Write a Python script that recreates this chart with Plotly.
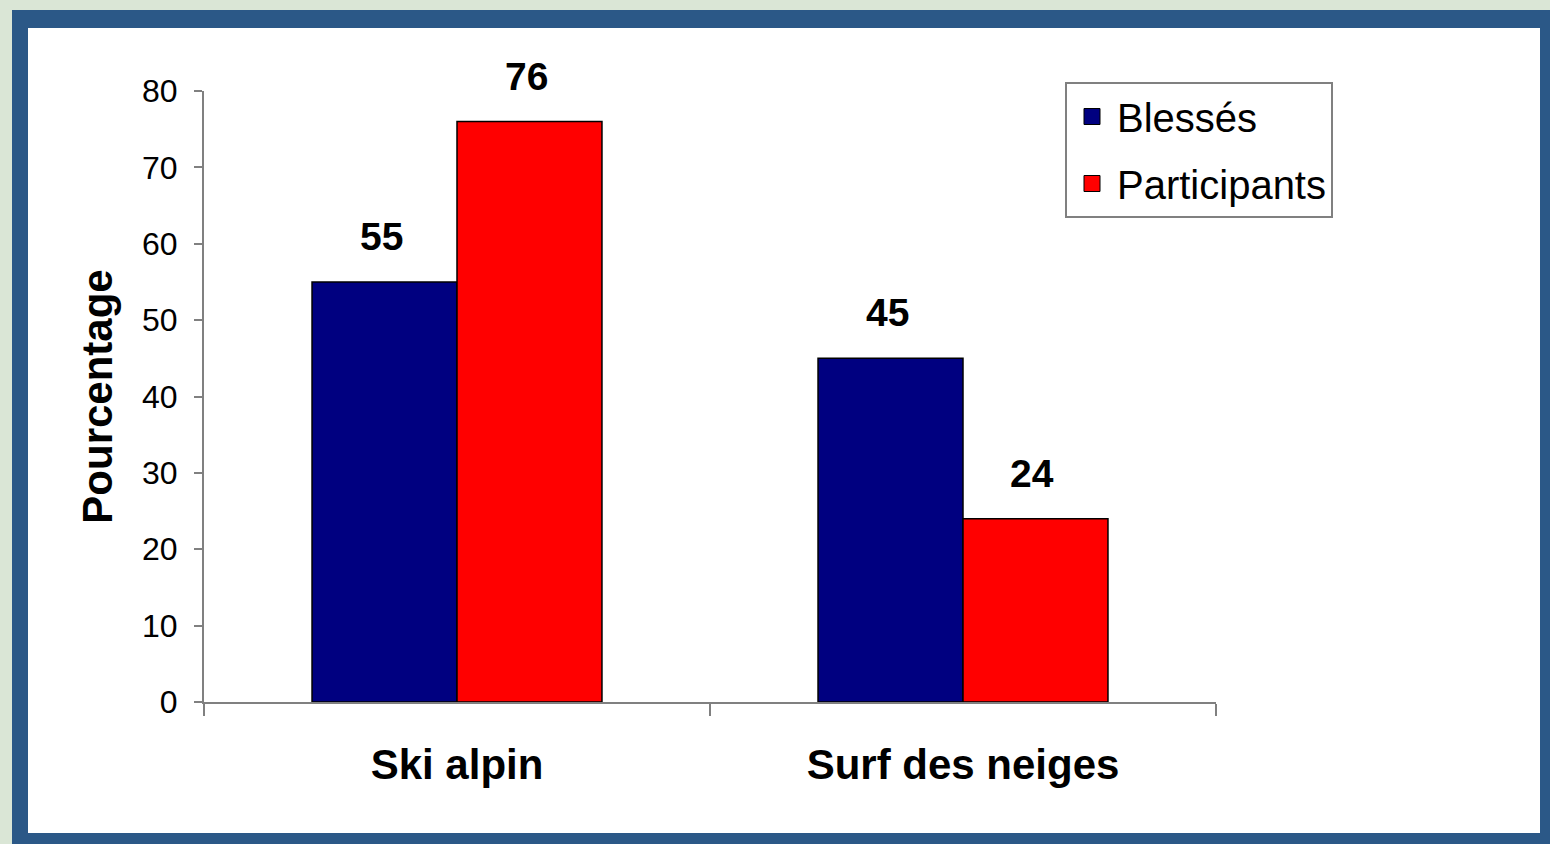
import plotly.graph_objects as go

categories = ["Ski alpin", "Surf des neiges"]
series_names = ["Blessés", "Participants"]
blesses = [55, 45]
participants = [76, 24]
series_values = [blesses, participants]
series_colors = ["#000080", "#FF0000"]
y_ticks = [0, 10, 20, 30, 40, 50, 60, 70, 80]

W, H = 1550, 844
L, R, T, B = 204, 334, 91, 142
PW, PH = W - L - R, H - T - B
BARGAP = 0.427
FONT = "Liberation Sans, Arial, sans-serif"
PAGE_BG = "#dae6d6"


def px_x(px):
    return (px - L) / PW


def px_y(py):
    return (H - B - py) / PH


fig = go.Figure()
for name, vals, col in zip(series_names, series_values, series_colors):
    fig.add_trace(go.Bar(
        x=categories, y=vals, name=name, legendgroup=name, showlegend=False,
        marker=dict(color=col, line=dict(color="#000000", width=1.5)),
    ))
# legend entries (square swatches)
for name, col in zip(series_names, series_colors):
    fig.add_trace(go.Scatter(
        x=[None], y=[None], mode="markers", name=name, legendgroup=name,
        marker=dict(symbol="square", size=16, color=col, line=dict(color="#000000", width=1)),
    ))

# data labels above bars
slot_px = PW / len(categories)
bar_px = slot_px * (1 - BARGAP) / len(series_names)
for i, vals in enumerate(series_values):
    for cat, v in zip(categories, vals):
        fig.add_annotation(
            x=cat, y=v, xref="x", yref="y", text=f"<b>{v}</b>", showarrow=False,
            xshift=(i - (len(series_names) - 1) / 2) * bar_px - 3,
            yanchor="bottom", yshift=22,
            font=dict(family=FONT, size=39, color="#000000"),
        )

# frame
fig.add_shape(type="rect", xref="paper", yref="paper", layer="below",
              x0=px_x(12), x1=px_x(1552), y0=px_y(850), y1=px_y(10),
              fillcolor="#2b5887", line=dict(width=0))
fig.add_shape(type="rect", xref="paper", yref="paper", layer="below",
              x0=px_x(28), x1=px_x(1540), y0=px_y(833), y1=px_y(28),
              fillcolor="#ffffff", line=dict(width=0))

fig.update_layout(
    width=W, height=H,
    margin=dict(l=L, r=R, t=T, b=B, pad=0),
    paper_bgcolor=PAGE_BG, plot_bgcolor="rgba(0,0,0,0)",
    barmode="group", bargap=BARGAP, bargroupgap=0,
    font=dict(family=FONT, color="#000000"),
    showlegend=True,
    legend=dict(
        x=px_x(1065), y=px_y(82), xanchor="left", yanchor="top",
        bgcolor="#ffffff", bordercolor="#808080", borderwidth=2,
        font=dict(family=FONT, size=40, color="#000000"),
        tracegroupgap=12, traceorder="grouped", itemwidth=40,
        entrywidth=280, entrywidthmode="pixels",
    ),
    xaxis=dict(
        showline=True, linecolor="#808080", linewidth=2,
        ticks="outside", tickson="boundaries", ticklen=12, tickcolor="#808080", tickwidth=2,
        tickfont=dict(family=FONT, size=42, color="#000000"),
        ticklabelstandoff=25,
        showgrid=False, zeroline=False, fixedrange=True,
    ),
    yaxis=dict(
        range=[0, 80], tickvals=y_ticks,
        showline=True, linecolor="#808080", linewidth=2,
        ticks="outside", ticklen=8, tickcolor="#808080", tickwidth=2,
        tickfont=dict(family=FONT, size=32, color="#000000"),
        ticklabelstandoff=10,
        showgrid=False, zeroline=False,
        title=dict(text="<b>Pourcentage</b>", font=dict(family=FONT, size=42, color="#000000"),
                   standoff=16),
    ),
)
fig.update_xaxes(tickvals=categories, ticktext=[f"<b>{c}</b>" for c in categories])

fig.write_html(
    "out.html",
    config={"displayModeBar": False},
    post_script=f"document.body.style.margin='0';document.body.style.background='{PAGE_BG}';",
)
